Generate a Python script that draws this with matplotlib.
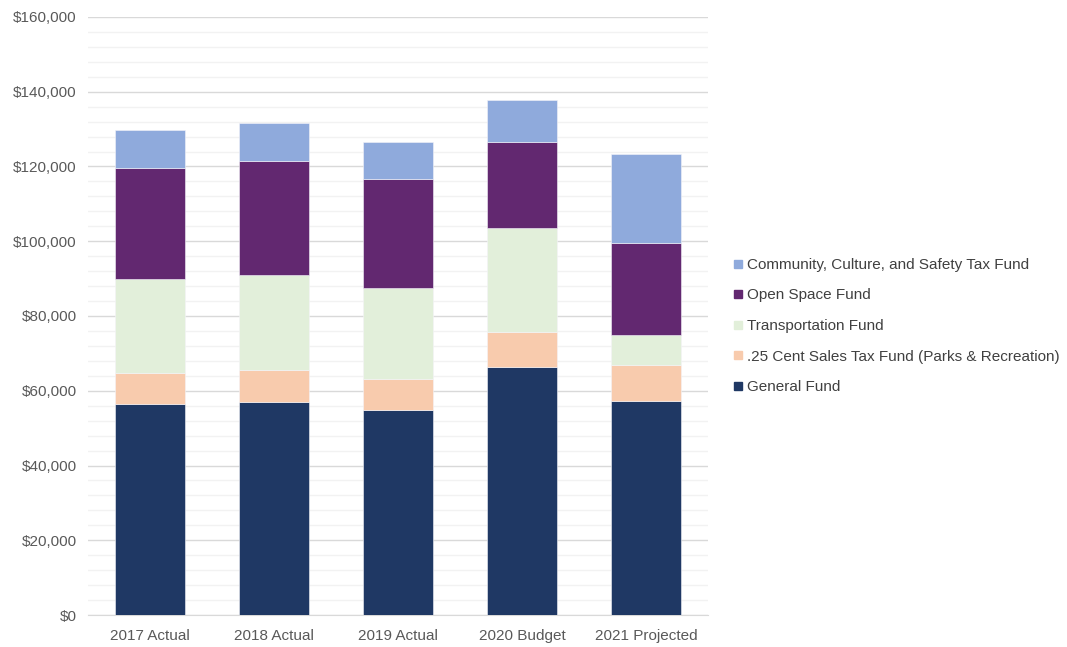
import matplotlib
matplotlib.use("Agg")
import matplotlib.pyplot as plt
from matplotlib.ticker import MultipleLocator, FuncFormatter
from matplotlib.lines import Line2D

plt.rcParams["font.family"] = ["Liberation Sans", "DejaVu Sans"]

years = ["2017 Actual", "2018 Actual", "2019 Actual", "2020 Budget", "2021 Projected"]

general_fund = [56450, 57000, 54850, 66350, 57300]
sales_tax_fund = [8300, 8550, 8250, 9350, 9600]
transportation_fund = [25150, 25400, 24400, 27800, 8000]
open_space_fund = [29700, 30550, 29200, 23100, 24600]
community_fund = [10200, 10100, 9900, 11200, 23800]

series = [
    ("General Fund", general_fund, "#1F3864"),
    (".25 Cent Sales Tax Fund (Parks & Recreation)", sales_tax_fund, "#F8CBAD"),
    ("Transportation Fund", transportation_fund, "#E2EFDA"),
    ("Open Space Fund", open_space_fund, "#622870"),
    ("Community, Culture, and Safety Tax Fund", community_fund, "#8FAADC"),
]

fig = plt.figure(figsize=(10.67, 6.47), dpi=100)
ax = fig.add_axes([88 / 1067, 32 / 647, 620 / 1067, 598 / 647])

x = list(range(len(years)))
bottoms = [0] * len(years)
for label, vals, color in series:
    ax.bar(x, vals, width=0.57, bottom=bottoms, color=color,
           edgecolor="#F4F4F8", linewidth=0.4, label=label, zorder=3)
    bottoms = [b + v for b, v in zip(bottoms, vals)]

ax.set_xlim(-0.5, len(years) - 0.5)
ax.set_ylim(0, 160000)
ax.yaxis.set_major_locator(MultipleLocator(20000))
ax.yaxis.set_minor_locator(MultipleLocator(4000))
ax.yaxis.set_major_formatter(FuncFormatter(lambda v, _: f"${v:,.0f}"))
ax.grid(axis="y", which="major", color="#D9D9D9", linewidth=1.0, zorder=0)
ax.grid(axis="y", which="minor", color="#F2F2F2", linewidth=1.0, zorder=0)

ax.set_xticks(x)
ax.set_xticklabels(years)
ax.tick_params(axis="both", which="both", length=0, labelsize=11,
               labelcolor="#595959")
ax.tick_params(axis="x", pad=10)
ax.tick_params(axis="y", pad=8)

for side in ["top", "right", "left"]:
    ax.spines[side].set_visible(False)
ax.spines["bottom"].set_color("#D9D9D9")

# legend lists the stack top-down, with small square swatches
handles = [Line2D([0], [0], marker="s", linestyle="none", markersize=6,
                  markerfacecolor=c, markeredgecolor=c, label=l)
           for l, _, c in reversed(series)]
fig.legend(handles=handles, loc="center left", bbox_to_anchor=(733 / 1067, 1 - 326 / 647),
           frameon=False, fontsize=11, labelcolor="#404040",
           handlelength=0.6, handletextpad=0.3, labelspacing=1.08,
           borderaxespad=0, borderpad=0)

fig.savefig("out.png", dpi=100)
